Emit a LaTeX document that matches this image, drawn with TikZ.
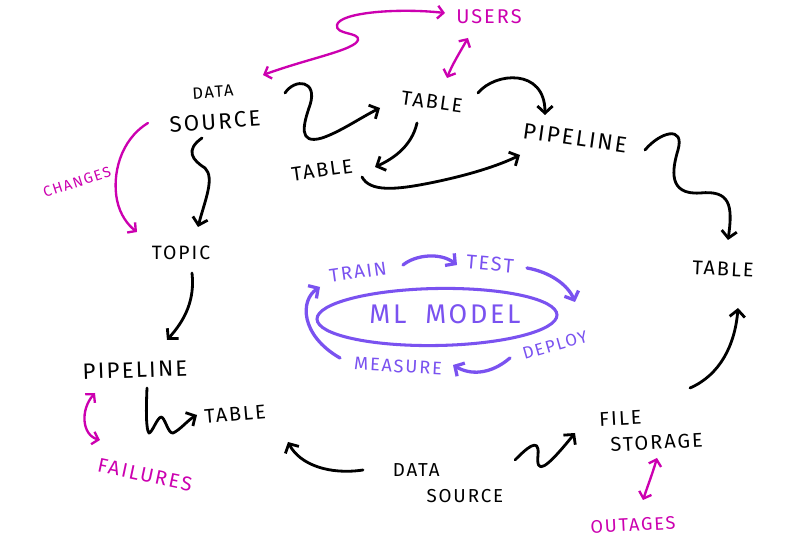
\documentclass[tikz,border=0pt]{standalone}
\usepackage{fontspec}
\setmainfont{Fira Sans}[LetterSpace=10]
\usetikzlibrary{arrows.meta,shapes.geometric}
\definecolor{magc}{RGB}{204,0,176}
\definecolor{purc}{RGB}{122,82,240}
\newcommand{\hsz}[1]{\fontsize{#1}{#1}\selectfont}
\tikzset{
  lbl/.style={inner sep=1pt, align=center},
  blk/.style={black, line width=2.4pt, line cap=round, line join=round, -{Straight Barb[length=6pt,width=13pt]}},
  mag/.style={magc, line width=2pt, line cap=round, line join=round, {Straight Barb[length=5pt,width=11pt]}-{Straight Barb[length=5pt,width=11pt]}},
  magone/.style={magc, line width=2pt, line cap=round, line join=round, -{Straight Barb[length=5pt,width=11pt]}},
  pur/.style={purc, line width=2.8pt, line cap=round, line join=round, -{Straight Barb[length=6pt,width=13pt]}},
}
\begin{document}
\begin{tikzpicture}[x=0.03cm,y=-0.03cm]
\useasboundingbox[fill=white] (0,0) rectangle (800,545);
% nodes
\node[lbl, rotate=4, font=\hsz{19}] (ds1) at (214,108) {{\hsz{14}DATA}\\[8pt]SOURCE};
\node[lbl, rotate=-8] (t1) at (432,102) {\hsz{17}TABLE};
\node[lbl, rotate=8] (t2) at (322,170) {\hsz{17}TABLE};
\node[lbl, rotate=-8] (p1) at (575,138) {\hsz{19}PIPELINE};
\node[lbl, text=magc] (users) at (489,17) {\hsz{17}USERS};
\node[lbl, text=magc, rotate=18] (changes) at (77,182) {\hsz{12.5}CHANGES};
\node[lbl] (topic) at (181,253) {\hsz{16.5}TOPIC};
\node[lbl, rotate=-3] (t3) at (723,269) {\hsz{17}TABLE};
\node[lbl, rotate=2] (p2) at (135,370) {\hsz{19}PIPELINE};
\node[lbl, rotate=5] (t4) at (235,414) {\hsz{17}TABLE};
\node[lbl, text=magc, rotate=-12] (fail) at (145,475) {\hsz{17}FAILURES};
\node[lbl, align=left, font=\hsz{16}] (ds2) at (448,483) {DATA\\[6pt]\hspace*{1.8em}SOURCE};
\node[lbl, align=left, rotate=3, font=\hsz{17}] (fs) at (651,430) {FILE\\[5pt]\hspace*{0.5em}STORAGE};
\node[lbl, text=magc, rotate=3] (outages) at (633,525) {\hsz{15.5}OUTAGES};
\node[ellipse, draw=purc, line width=2.6pt, inner sep=0pt,
      minimum width=7.2cm, minimum height=1.71cm, rotate=1] (ml) at (437,317) {};
\node[lbl, text=purc] (mltxt) at (445,314) {\hsz{23}ML\hspace{0.7em}MODEL};
\node[lbl, text=purc, rotate=8] (train) at (358,272) {\hsz{16}TRAIN};
\node[lbl, text=purc, rotate=-5] (test) at (490,264) {\hsz{17}TEST};
\node[lbl, text=purc, rotate=16] (deploy) at (555,345) {\hsz{14.5}DEPLOY};
\node[lbl, text=purc, rotate=-3] (measure) at (398,366) {\hsz{15.5}MEASURE};
% black connectors
\draw[blk] ([shift={(71,-15)}]ds1.center) .. controls (295,78) and (318,80) .. (310,105)
  .. controls (303,125) and (298,145) .. (322,138)
  .. controls (340,132) and (360,118) .. ([shift={(-52,6)}]t1.center);
\draw[blk] ([shift={(-15,21)}]t1.center) .. controls (412,145) and (395,158) .. ([shift={(53,-3)}]t2.center);
\draw[blk] ([shift={(46,-9)}]t1.center) .. controls (495,72) and (545,68) .. ([shift={(-30,-23)}]p1.center);
\draw[blk] ([shift={(40,7)}]t2.center) .. controls (370,192) and (395,190) .. (430,183)
  .. controls (470,175) and (500,165) .. ([shift={(-55,17)}]p1.center);
\draw[blk] ([shift={(70,12)}]p1.center) .. controls (660,132) and (685,125) .. (678,150)
  .. controls (672,170) and (668,195) .. (700,193)
  .. controls (730,190) and (733,205) .. ([shift={(5,-29)}]t3.center);
\draw[blk] ([shift={(-12,30)}]ds1.center) .. controls (185,150) and (192,160) .. (205,168)
  .. controls (215,178) and (205,200) .. ([shift={(17,-26)}]topic.center);
\draw[blk] ([shift={(11,20)}]topic.center) .. controls (195,300) and (185,320) .. ([shift={(32,-30)}]p2.center);
\draw[blk] ([shift={(12,18)}]p2.center) .. controls (146,410) and (146,430) .. (149,433)
  .. controls (152,433) and (157,418) .. (161,417)
  .. controls (165,417) and (168,434) .. (173,433)
  .. controls (180,430) and (188,420) .. ([shift={(-38,1)}]t4.center);
\draw[blk] ([shift={(-85,-13)}]ds2.center) .. controls (330,475) and (300,465) .. ([shift={(53,28)}]t4.center);
\draw[blk] ([shift={(67,-23)}]ds2.center) .. controls (525,450) and (540,435) .. (538,455)
  .. controls (536,475) and (545,470) .. ([shift={(-76,3)}]fs.center);
\draw[blk] ([shift={(39,-42)}]fs.center) .. controls (720,375) and (735,345) .. ([shift={(15,39)}]t3.center);
% magenta connectors
\draw[mag] ([shift={(-44,-4)}]users.center) .. controls (400,8) and (340,12) .. (337,25)
  .. controls (335,35) and (360,32) .. (358,40)
  .. controls (355,50) and (310,58) .. ([shift={(49,-33)}]ds1.center);
\draw[mag] ([shift={(-21,21)}]users.center) .. controls (460,52) and (452,65) .. ([shift={(15,-24)}]t1.center);
\draw[magone] ([shift={(-66,15)}]ds1.center) .. controls (120,140) and (112,175) .. (117,200)
  .. controls (120,215) and (128,225) .. ([shift={(-44,-21)}]topic.center);
\draw[mag] ([shift={(-40,23)}]p2.center) .. controls (80,410) and (82,435) .. ([shift={(-45,-35)}]fail.center);
\draw[mag] ([shift={(6,28)}]fs.center) .. controls (652,475) and (648,485) .. ([shift={(10,-25)}]outages.center);
% purple cycle
\draw[pur] ([shift={(45,-7)}]train.center) .. controls (415,255) and (440,252) .. ([shift={(-33,1)}]test.center);
\draw[pur] ([shift={(37,4)}]test.center) .. controls (550,272) and (568,285) .. ([shift={(20,-43)}]deploy.center);
\draw[pur] ([shift={(-45,13)}]deploy.center) .. controls (490,375) and (470,375) .. ([shift={(55,-1)}]measure.center);
\draw[pur] ([shift={(-58,-8)}]measure.center) .. controls (300,335) and (300,300) .. ([shift={(-38,15)}]train.center);
\end{tikzpicture}
\end{document}
